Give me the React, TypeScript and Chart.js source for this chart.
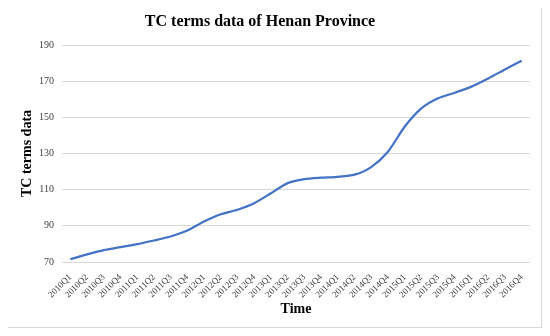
import React, { useEffect, useRef } from "react";
import { Chart, registerables } from "chart.js";

Chart.register(...registerables);

const categories = [
  "2010Q1", "2010Q2", "2010Q3", "2010Q4",
  "2011Q1", "2011Q2", "2011Q3", "2011Q4",
  "2012Q1", "2012Q2", "2012Q3", "2012Q4",
  "2013Q1", "2013Q2", "2013Q3", "2013Q4",
  "2014Q1", "2014Q2", "2014Q3", "2014Q4",
  "2015Q1", "2015Q2", "2015Q3", "2015Q4",
  "2016Q1", "2016Q2", "2016Q3", "2016Q4",
];

const tcValues = [
  71.5, 74.2, 76.6, 78.2, 79.9, 81.9, 84.1, 87.4,
  92.4, 96.4, 98.9, 102.5, 108.0, 113.6, 115.8, 116.6,
  117.1, 118.3, 122.5, 131.0, 144.8, 154.9, 160.5, 163.6,
  167.0, 171.5, 176.5, 181.3,
];

const chartTitle = "TC terms data of Henan Province";
const yTitle = "TC terms data";
const xTitle = "Time";
const yMin = 70;
const yMax = 190;
const yStep = 20;

const SERIF = "'Liberation Serif', 'Times New Roman', serif";

const titlePlugin = {
  id: "customTitle",
  afterDraw(chart: any) {
    const ctx = chart.ctx;
    ctx.save();
    ctx.font = `bold 16px ${SERIF}`;
    ctx.fillStyle = "#000000";
    ctx.textAlign = "center";
    ctx.textBaseline = "middle";
    ctx.fillText(chartTitle, 252, 14);
    ctx.restore();
  },
};

export default function App() {
  const ref = useRef<HTMLCanvasElement | null>(null);

  useEffect(() => {
    if (!ref.current) return;
    const chart = new Chart(ref.current, {
      type: "line",
      data: {
        labels: categories,
        datasets: [
          {
            data: tcValues,
            borderColor: "#4472C4",
            borderWidth: 2.25,
            pointRadius: 0,
            tension: 0.25,
            fill: false,
          },
        ],
      },
      plugins: [titlePlugin],
      options: {
        animation: false,
        responsive: false,
        maintainAspectRatio: false,
        layout: { padding: { left: 10, right: 11, top: 37, bottom: 9 } },
        plugins: {
          legend: { display: false },
          title: { display: false },
          tooltip: { enabled: false },
        },
        scales: {
          x: {
            offset: true,
            grid: { display: false },
            border: { display: false },
            ticks: {
              minRotation: 45,
              maxRotation: 45,
              autoSkip: false,
              padding: 2,
              color: "#404040",
              font: { family: SERIF, size: 9 },
            },
            title: {
              display: true,
              text: xTitle,
              color: "#000000",
              font: { family: SERIF, size: 14, weight: "bold" },
              padding: { top: 0, bottom: 0 },
            },
            afterFit(scale: any) {
              scale.height = 56;
            },
          },
          y: {
            min: yMin,
            max: yMax,
            grid: { color: "#d9d9d9", lineWidth: 1, drawTicks: false },
            border: { display: false },
            ticks: {
              stepSize: yStep,
              padding: 8,
              color: "#404040",
              font: { family: SERIF, size: 10 },
            },
            title: {
              display: true,
              text: yTitle,
              color: "#000000",
              font: { family: SERIF, size: 14, weight: "bold" },
              padding: { top: 1, bottom: 0 },
            },
            afterFit(scale: any) {
              scale.width = 44;
            },
          },
        },
      },
    });
    return () => chart.destroy();
  }, []);

  return (
    <div
      style={{
        position: "relative",
        width: 535,
        height: 321,
        marginLeft: -1,
        marginTop: -1,
        border: "1px solid #d9d9d9",
        boxSizing: "border-box",
        background: "#ffffff",
      }}
    >
      <canvas
        ref={ref}
        width={533}
        height={319}
        style={{ position: "absolute", left: 0, top: 0, width: 533, height: 319 }}
      />
    </div>
  );
}
